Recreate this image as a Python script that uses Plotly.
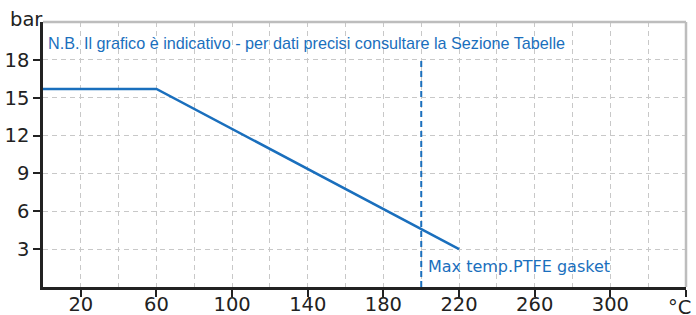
import plotly.graph_objects as go

# Data
temp_c = [0, 60, 220]
pressure_bar = [15.7, 15.7, 3]
ptfe_max_temp = 200
ptfe_line_top = 18.2
x_tick_vals = [20, 60, 100, 140, 180, 220, 260, 300, 340]
x_tick_text = ["20", "60", "100", "140", "180", "220", "260", "300", ""]
x_unit = "°C"
y_tick_vals = [3, 6, 9, 12, 15, 18]
y_tick_text = ["3", "6", "9", "12", "15", "18"]
note_text = "N.B. Il grafico è indicativo - per dati precisi consultare la Sezione Tabelle"
ptfe_text = "Max temp.PTFE gasket"
y_unit = "bar"

BLUE = "#1a6fbd"
GRID = "#c8c8c8"
AXIS = "#222222"
TICKFONT = dict(size=19.5, color=AXIS)

fig = go.Figure()
fig.add_trace(go.Scatter(x=temp_c, y=pressure_bar, mode="lines",
                         line=dict(color=BLUE, width=2.5), hoverinfo="skip"))
fig.add_trace(go.Scatter(x=[ptfe_max_temp, ptfe_max_temp], y=[0, ptfe_line_top], mode="lines",
                         line=dict(color=BLUE, width=2, dash="6px,4px"), hoverinfo="skip"))

fig.update_layout(
    width=696, height=315,
    margin=dict(l=43, r=10, t=22, b=28),
    paper_bgcolor="white", plot_bgcolor="white",
    showlegend=False,
    font=dict(family="DejaVu Sans, Verdana, sans-serif", size=19, color=AXIS),
)
fig.update_xaxes(
    range=[0, 340], tickvals=x_tick_vals, ticktext=x_tick_text,
    showgrid=True, gridcolor=GRID, griddash="5px,4px", gridwidth=1,
    minor=dict(dtick=20, tick0=0, showgrid=True, gridcolor=GRID, griddash="5px,4px", ticks=""),
    showline=True, linecolor=AXIS, linewidth=2.5,
    ticks="outside", ticklen=7, tickwidth=1.5, tickcolor=AXIS,
    zeroline=False, tickfont=TICKFONT, automargin=False, ticklabeloverflow="allow",
    ticklabelstandoff=-9,
)
fig.update_yaxes(
    range=[0, 21], tickvals=y_tick_vals, ticktext=y_tick_text,
    showgrid=True, gridcolor=GRID, griddash="5px,4px", gridwidth=1,
    showline=True, linecolor=AXIS, linewidth=2.5,
    ticks="outside", ticklen=7, tickwidth=1.5, tickcolor=AXIS,
    zeroline=False, tickfont=TICKFONT, automargin=False, ticklabeloverflow="allow",
)
# light border on top and right
fig.add_shape(type="line", xref="paper", yref="paper", x0=0, x1=1, y0=1, y1=1,
              line=dict(color="#bdbdbd", width=2.5))
fig.add_shape(type="line", xref="paper", yref="paper", x0=1, x1=1, y0=0, y1=1,
              line=dict(color="#bdbdbd", width=2.5))

fig.add_annotation(text=x_unit, xref="x", yref="paper", x=340, y=0, xanchor="center",
                   yanchor="top", xshift=-7, yshift=-7, showarrow=False,
                   font=dict(size=19.5, color=AXIS))
fig.add_annotation(text=y_unit, xref="paper", yref="paper", x=0, y=1, xanchor="right",
                   yanchor="bottom", xshift=2, yshift=-11, showarrow=False,
                   font=dict(size=19.5, color=AXIS))
fig.add_annotation(text=note_text, xref="x", yref="y", x=1.5, y=19.3, xanchor="left",
                   yanchor="middle", showarrow=False,
                   font=dict(family="Liberation Sans, Arial, sans-serif", size=16.2, color=BLUE))
fig.add_annotation(text=ptfe_text, xref="x", yref="y", x=202.5, y=1.65, xanchor="left",
                   yanchor="middle", showarrow=False,
                   font=dict(size=16, color=BLUE))

# remove the browser's default page margin so the 696x315 figure fills the window exactly
fig.write_html("out.html", config={"displayModeBar": False},
               post_script="document.body.style.margin='0';document.body.style.overflow='hidden';")
